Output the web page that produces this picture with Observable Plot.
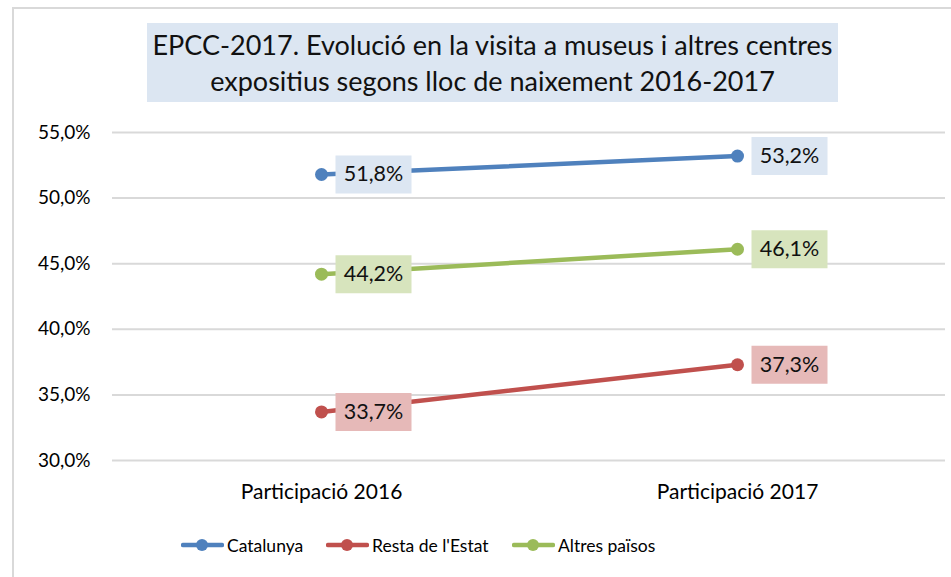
<!DOCTYPE html>
<html>
<head>
<meta charset="utf-8">
<script src="https://cdn.jsdelivr.net/npm/d3@7"></script>
<script src="https://cdn.jsdelivr.net/npm/@observablehq/plot@0.6"></script>
<style>
  html, body { margin: 0; padding: 0; background: #fff; }
  body { width: 951px; height: 577px; overflow: hidden; position: relative; font-family: Lato, "Open Sans", sans-serif; color: #000; }
  #frame { position: absolute; left: 12px; top: 7px; width: 1000px; height: 700px; border: 2px solid #d9d9d9; box-sizing: border-box; }
  #title { position: absolute; left: 147px; top: 23px; width: 691px; height: 79px; background: #dce6f2; text-align: center; font-size: 27px; line-height: 36px; padding-top: 4px; box-sizing: border-box; color: #111; white-space: nowrap; }
  #chart { position: absolute; left: 0; top: 110px; }
  #legend { position: absolute; top: 532px; left: 0; width: 951px; height: 26px; font-size: 17.5px; }
  .item { position: absolute; top: 0; height: 26px; display: flex; align-items: center; }
  .item svg { display: block; margin-right: 3px; }
</style>
</head>
<body>
<div id="frame"></div>
<div id="title">EPCC-2017. Evolució en la visita a museus i altres centres<br>expositius segons lloc de naixement 2016-2017</div>
<div id="chart"></div>
<div id="legend"></div>
<script>
// ---- data ----
const categories = ["Participació 2016", "Participació 2017"];
const seriesNames = ["Catalunya", "Resta de l'Estat", "Altres països"];
const catalunya = [0.518, 0.532];
const restaEstat = [0.337, 0.373];
const altresPaisos = [0.442, 0.461];
const yTicks = [0.30, 0.35, 0.40, 0.45, 0.50, 0.55];
const lineColors = ["#4f81bd", "#c0504d", "#9bbb59"];
const labelBgColors = ["#dce6f2", "#e6b9b8", "#d7e4bd"];

const valuesBySeries = [catalunya, restaEstat, altresPaisos];
const data = [];
seriesNames.forEach((s, i) => {
  categories.forEach((c, j) => {
    data.push({series: s, category: c, value: valuesBySeries[i][j]});
  });
});

const locale = d3.formatLocale({decimal: ",", thousands: ".", grouping: [3], currency: ["", "€"]});
const pct = locale.format(".1%");

const boxSymbol = { draw(ctx) { ctx.moveTo(-38, -19); ctx.lineTo(38, -19); ctx.lineTo(38, 19); ctx.lineTo(-38, 19); ctx.closePath(); } };

const chart = Plot.plot({
  width: 951,
  height: 410,
  marginLeft: 112,
  marginRight: 6,
  marginTop: 22,
  marginBottom: 60,
  style: { fontFamily: "Lato, 'Open Sans', sans-serif", fontSize: "19px", color: "#000", background: "transparent", overflow: "visible" },
  x: { type: "point", domain: categories, padding: 0.5, label: null },
  y: { domain: [0.30, 0.55], label: null },
  color: { domain: seriesNames, range: lineColors },
  marks: [
    Plot.ruleY(yTicks, { stroke: "#d9d9d9", strokeWidth: 2 }),
    Plot.axisY({ ticks: yTicks, tickFormat: pct, tickSize: 0, tickPadding: 22, label: null, fontSize: 19 }),
    Plot.axisX({ tickSize: 0, tickPadding: 24, label: null, fontSize: 21 }),
    Plot.line(data, { x: "category", y: "value", z: "series", stroke: "series", strokeWidth: 4.5 }),
    Plot.dot(data, { x: "category", y: "value", fill: "series", r: 6.5, stroke: null }),
    Plot.dot(data, { x: "category", y: "value", symbol: boxSymbol, r: 10, dx: 52, stroke: null,
      fill: d => labelBgColors[seriesNames.indexOf(d.series)] }),
    Plot.text(data, { x: "category", y: "value", text: d => pct(d.value), dx: 52, fontSize: 21.5, fill: "#111", textAnchor: "middle" })
  ]
});
document.getElementById("chart").appendChild(chart);

// legend
const legendPos = [181, 326, 512];
const legend = document.getElementById("legend");
seriesNames.forEach((s, i) => {
  const item = document.createElement("div");
  item.className = "item";
  item.style.left = legendPos[i] + "px";
  item.innerHTML = `<svg width="43" height="16"><line x1="2" y1="8" x2="41" y2="8" stroke="${lineColors[i]}" stroke-width="4.5" stroke-linecap="round"/><circle cx="21" cy="8" r="6" fill="${lineColors[i]}"/></svg><span>${s}</span>`;
  legend.appendChild(item);
});
</script>
</body>
</html>
